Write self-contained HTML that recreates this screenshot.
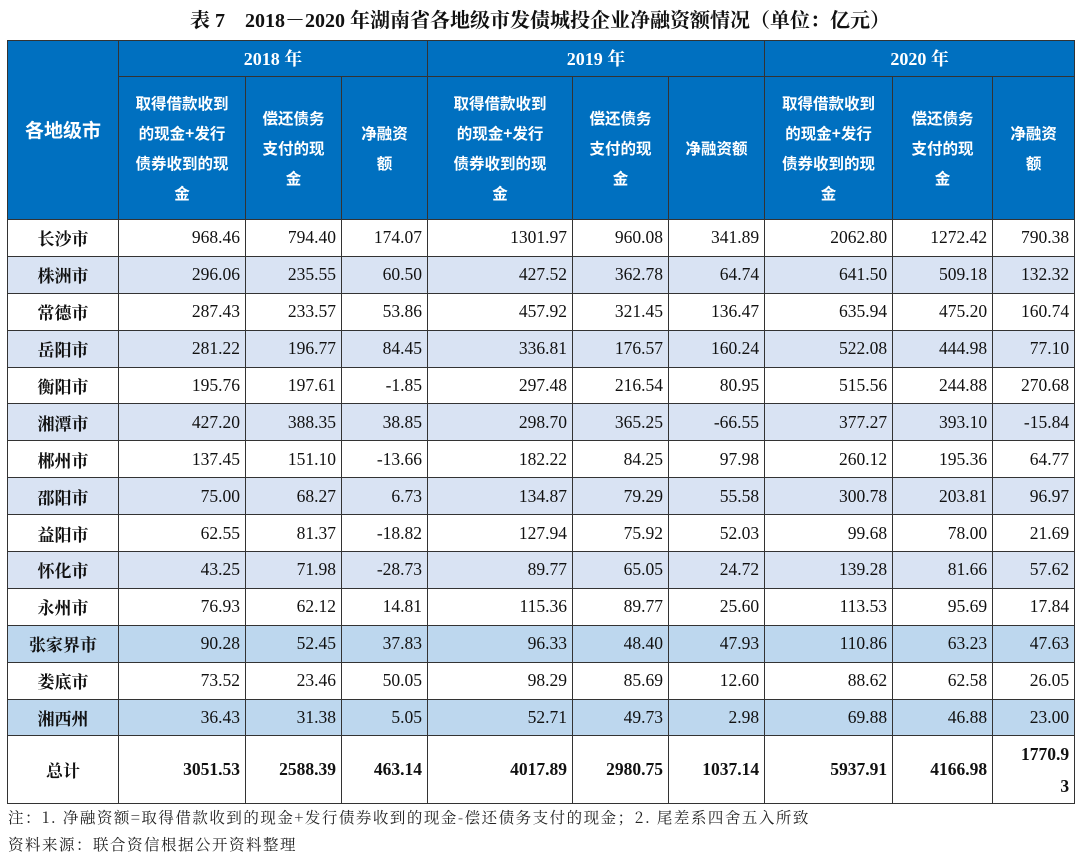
<!DOCTYPE html>
<html><head><meta charset="utf-8"><style>
body{margin:0;width:1080px;height:862px;background:#fff;overflow:hidden;font-family:"Liberation Serif","Noto Serif CJK SC",serif;}
.title{position:absolute;left:0;top:4px;width:1080px;text-align:center;font-size:20px;font-weight:bold;color:#111;font-family:"Liberation Serif","Noto Serif CJK SC",serif;}
table{position:absolute;left:7px;top:40px;border-collapse:collapse;table-layout:fixed;width:1067px;}
td{border:1.5px solid #333;padding:0 5px;font-size:17.5px;color:#111;text-align:right;white-space:nowrap;height:35.9px;}
th{border:1.5px solid #333;background:#0070c0;color:#fff;font-weight:bold;font-size:15.5px;font-family:"Noto Sans CJK SC",sans-serif;line-height:30px;padding:0 2px;white-space:nowrap;}
th.y{font-family:"Liberation Serif","Noto Serif CJK SC",serif;font-weight:bold;font-size:18px;height:35px;}
td.c{text-align:center;font-family:"Noto Serif CJK SC",serif;font-weight:bold;font-size:17px;}
tr.a td{background:#d9e3f3;}
tr.b td{background:#bdd7ee;}
tr.t td{font-weight:bold;height:67px;}
.note{position:absolute;left:8px;font-size:15.5px;color:#222;font-family:"Noto Serif CJK SC",serif;letter-spacing:1.5px;}
</style></head><body>
<div class="title">表 7　2018－2020 年湖南省各地级市发债城投企业净融资额情况（单位：亿元）</div>
<table>
<colgroup><col style="width:111px"><col style="width:127px"><col style="width:96px"><col style="width:86px"><col style="width:145px"><col style="width:96px"><col style="width:96px"><col style="width:128px"><col style="width:100px"><col style="width:82px"></colgroup>
<tr><th rowspan="2" style="font-size:19px">各地级市</th><th class="y" colspan="3">2018 年</th><th class="y" colspan="3">2019 年</th><th class="y" colspan="3">2020 年</th></tr>
<tr style="height:143px"><th>取得借款收到<br>的现金+发行<br>债券收到的现<br>金</th><th>偿还债务<br>支付的现<br>金</th><th>净融资<br>额</th><th>取得借款收到<br>的现金+发行<br>债券收到的现<br>金</th><th>偿还债务<br>支付的现<br>金</th><th>净融资额</th><th>取得借款收到<br>的现金+发行<br>债券收到的现<br>金</th><th>偿还债务<br>支付的现<br>金</th><th>净融资<br>额</th></tr>
<tr><td class="c">长沙市</td><td>968.46</td><td>794.40</td><td>174.07</td><td>1301.97</td><td>960.08</td><td>341.89</td><td>2062.80</td><td>1272.42</td><td>790.38</td></tr>
<tr class="a"><td class="c">株洲市</td><td>296.06</td><td>235.55</td><td>60.50</td><td>427.52</td><td>362.78</td><td>64.74</td><td>641.50</td><td>509.18</td><td>132.32</td></tr>
<tr><td class="c">常德市</td><td>287.43</td><td>233.57</td><td>53.86</td><td>457.92</td><td>321.45</td><td>136.47</td><td>635.94</td><td>475.20</td><td>160.74</td></tr>
<tr class="a"><td class="c">岳阳市</td><td>281.22</td><td>196.77</td><td>84.45</td><td>336.81</td><td>176.57</td><td>160.24</td><td>522.08</td><td>444.98</td><td>77.10</td></tr>
<tr><td class="c">衡阳市</td><td>195.76</td><td>197.61</td><td>-1.85</td><td>297.48</td><td>216.54</td><td>80.95</td><td>515.56</td><td>244.88</td><td>270.68</td></tr>
<tr class="a"><td class="c">湘潭市</td><td>427.20</td><td>388.35</td><td>38.85</td><td>298.70</td><td>365.25</td><td>-66.55</td><td>377.27</td><td>393.10</td><td>-15.84</td></tr>
<tr><td class="c">郴州市</td><td>137.45</td><td>151.10</td><td>-13.66</td><td>182.22</td><td>84.25</td><td>97.98</td><td>260.12</td><td>195.36</td><td>64.77</td></tr>
<tr class="a"><td class="c">邵阳市</td><td>75.00</td><td>68.27</td><td>6.73</td><td>134.87</td><td>79.29</td><td>55.58</td><td>300.78</td><td>203.81</td><td>96.97</td></tr>
<tr><td class="c">益阳市</td><td>62.55</td><td>81.37</td><td>-18.82</td><td>127.94</td><td>75.92</td><td>52.03</td><td>99.68</td><td>78.00</td><td>21.69</td></tr>
<tr class="a"><td class="c">怀化市</td><td>43.25</td><td>71.98</td><td>-28.73</td><td>89.77</td><td>65.05</td><td>24.72</td><td>139.28</td><td>81.66</td><td>57.62</td></tr>
<tr><td class="c">永州市</td><td>76.93</td><td>62.12</td><td>14.81</td><td>115.36</td><td>89.77</td><td>25.60</td><td>113.53</td><td>95.69</td><td>17.84</td></tr>
<tr class="b"><td class="c">张家界市</td><td>90.28</td><td>52.45</td><td>37.83</td><td>96.33</td><td>48.40</td><td>47.93</td><td>110.86</td><td>63.23</td><td>47.63</td></tr>
<tr><td class="c">娄底市</td><td>73.52</td><td>23.46</td><td>50.05</td><td>98.29</td><td>85.69</td><td>12.60</td><td>88.62</td><td>62.58</td><td>26.05</td></tr>
<tr class="b"><td class="c">湘西州</td><td>36.43</td><td>31.38</td><td>5.05</td><td>52.71</td><td>49.73</td><td>2.98</td><td>69.88</td><td>46.88</td><td>23.00</td></tr>
<tr class="t"><td class="c">总计</td><td>3051.53</td><td>2588.39</td><td>463.14</td><td>4017.89</td><td>2980.75</td><td>1037.14</td><td>5937.91</td><td>4166.98</td><td style="line-height:32px">1770.9<br>3</td></tr>
</table>
<div class="note" style="top:806px">注：1. 净融资额=取得借款收到的现金+发行债券收到的现金-偿还债务支付的现金；2. 尾差系四舍五入所致</div>
<div class="note" style="top:833px">资料来源：联合资信根据公开资料整理</div>
</body></html>
